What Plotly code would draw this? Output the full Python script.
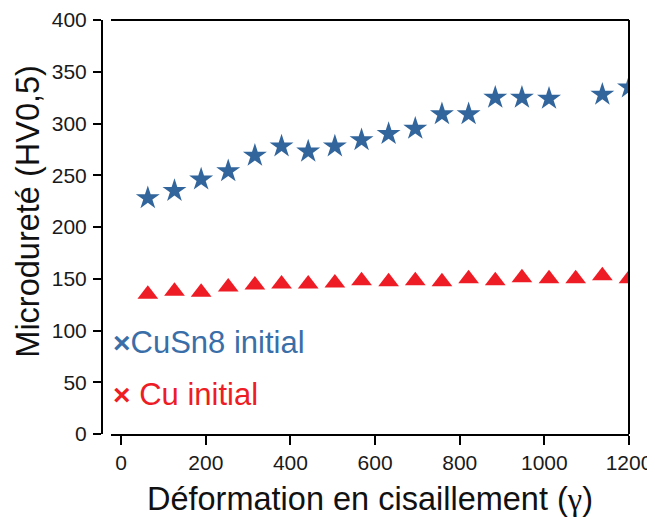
import plotly.graph_objects as go

# Shear strain (gamma) positions
strain = [63, 126, 189, 253, 316, 379, 442, 505, 568, 632,
          695, 758, 821, 884, 947, 1011, 1074, 1137, 1200]

# CuSn8 initial microhardness (one missing value at 1074)
cusn8_strain = [63, 126, 189, 253, 316, 379, 442, 505, 568, 632,
                695, 758, 821, 884, 947, 1011, 1137, 1200]
cusn8_hv = [228, 235, 246, 254, 269, 278, 273, 278, 284, 290,
            295, 309, 309, 325, 325, 324, 328, 335]

# Cu initial microhardness
cu_hv = [135, 138, 137, 142, 144, 145, 145, 146, 148, 147,
         148, 147, 150, 148, 151, 150, 150, 153, 150]

x_ticks = [0, 200, 400, 600, 800, 1000, 1200]
y_ticks = [0, 50, 100, 150, 200, 250, 300, 350, 400]

blue = "#31659c"
red = "#ee1c25"

fig = go.Figure()
fig.add_trace(go.Scatter(
    x=cusn8_strain, y=cusn8_hv, mode="markers", name="CuSn8 initial",
    marker=dict(symbol="star", size=18, color=blue, line=dict(width=0)),
    showlegend=False))
fig.add_trace(go.Scatter(
    x=strain, y=cu_hv, mode="markers", name="Cu initial",
    marker=dict(symbol="triangle-up", size=18, color=red, line=dict(width=0)),
    showlegend=False))

font_family = "Liberation Sans, Arial, sans-serif"

# The page body adds an 8 px margin, so the figure is 8 px smaller each way
fig.update_layout(
    width=647, height=516,
    margin=dict(l=94, r=26, t=12, b=90),
    paper_bgcolor="white", plot_bgcolor="white",
    font=dict(family=font_family, color="#1a1a1a"),
    xaxis=dict(
        domain=[9 / 527, 1], range=[-24, 1200], automargin=False,
        tickvals=x_ticks, ticks="outside", ticklen=9, tickwidth=2,
        tickcolor="black", showline=True, linewidth=2, linecolor="black",
        showgrid=False, zeroline=False, ticklabeloverflow="allow",
        tickfont=dict(size=21, color="#1a1a1a"),
        title=dict(text="Déformation en cisaillement (<span style=\"font-family:'Liberation Serif'\">γ</span>)",
                   font=dict(size=32.5, color="#111"), standoff=14),
    ),
    yaxis=dict(
        anchor="free", position=0, range=[0, 400], automargin=False,
        tickvals=y_ticks, ticks="outside", ticklen=8, tickwidth=2,
        tickcolor="black", showline=True, linewidth=2, linecolor="black",
        showgrid=False, zeroline=False, ticklabelstandoff=2,
        ticklabeloverflow="allow",
        tickfont=dict(size=21, color="#1a1a1a"),
    ),
    shapes=[
        dict(type="line", xref="x domain", yref="y domain",
             x0=1, x1=1, y0=0, y1=1, line=dict(color="black", width=2)),
        dict(type="line", xref="x domain", yref="y domain",
             x0=0, x1=1, y0=1, y1=1, line=dict(color="black", width=2)),
    ],
    annotations=[
        dict(text="Microdureté (HV0,5)", xref="paper", yref="paper",
             x=-0.1404, y=0.537, xanchor="center", yanchor="middle",
             textangle=-90, showarrow=False,
             font=dict(size=32.5, color="#111")),
        dict(text="<span style=\"font-size:30px\"><b>×</b></span>CuSn8 initial",
             xref="paper", yref="paper",
             x=0.017, y=0.2206, xanchor="left", yanchor="middle",
             showarrow=False, font=dict(size=31, color="#3a6ea8")),
        dict(text="<span style=\"font-size:30px\"><b>×</b></span> Cu initial",
             xref="paper", yref="paper",
             x=0.017, y=0.0959, xanchor="left", yanchor="middle",
             showarrow=False, font=dict(size=31, color=red)),
    ],
)

fig.write_html("out.html")
